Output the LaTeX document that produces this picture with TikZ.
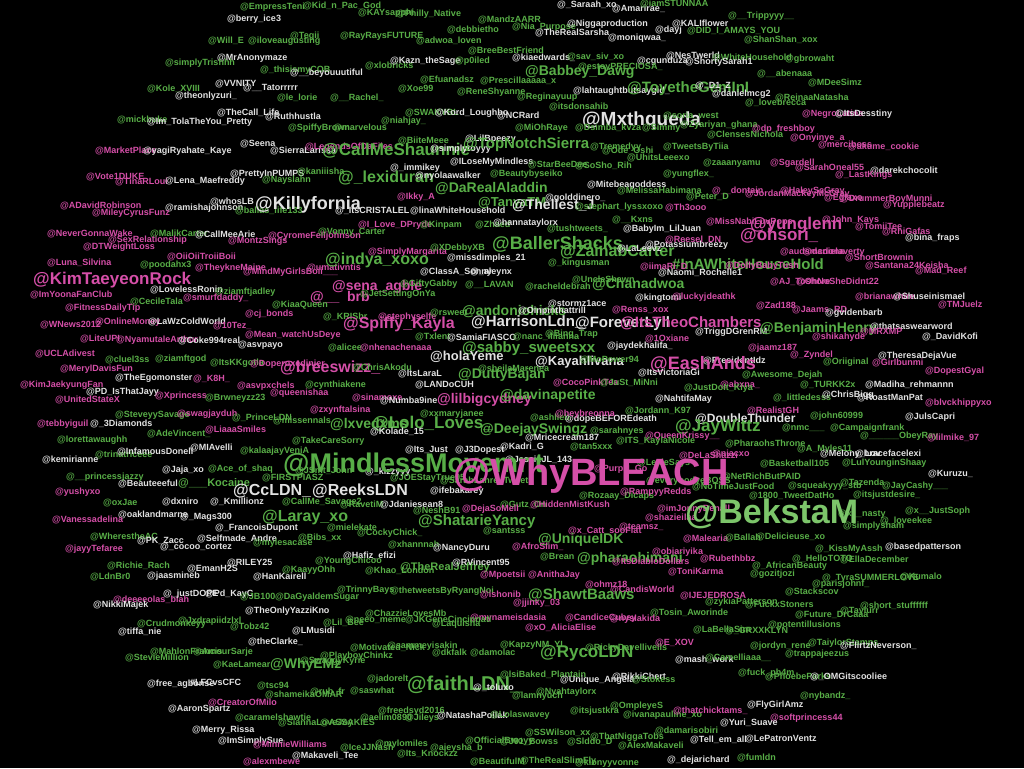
\documentclass[tikz,border=0pt]{standalone}
\usepackage{fontspec}
\setmainfont{Liberation Sans}
\definecolor{grn}{HTML}{58AE47}
\definecolor{lgr}{HTML}{7CC56A}
\definecolor{pnk}{HTML}{D54FA8}
\definecolor{wht}{HTML}{E2E2E2}
\newcounter{lc}
\newcommand\nd[4]{\stepcounter{lc}\node[#1] (h\thelc) at (#2pt,-#3pt) {#4};}
\tikzset{
  lbl/.style={anchor=west,inner sep=0pt,font=\bfseries\fontsize{9}{9}\selectfont},
  gn/.style={lbl,text=grn},
  pk/.style={lbl,text=pnk},
  wt/.style={lbl,text=wht},
  lg/.style={lbl,text=lgr}
}
\begin{document}
\begin{tikzpicture}[x=1pt,y=1pt]
\fill[black] (0,0) rectangle (1024,-768);
\useasboundingbox (0,0) rectangle (1024,-768);
% ---- top
\nd{gn}{240}{7}{@EmpressTeni}
\nd{gn}{303}{6}{@Kid\_n\_Pac\_God}
\nd{wt}{227}{19}{@berry\_ice3}
\nd{gn}{358}{13}{@KAYsapphi}
\nd{gn}{396}{14}{@Philly\_Native}
\nd{wt}{557}{5}{@\_Saraah\_xo}
\nd{wt}{612}{9}{@Amarirae\_}
\nd{gn}{640}{4}{@iamSTUNNAA}
\nd{gn}{478}{20}{@MandzAARR}
\nd{gn}{447}{30}{@debbietho}
\nd{gn}{512}{27}{@Nia\_Purpose}
\nd{wt}{567}{24}{@Niggaproduction}
\nd{wt}{672}{24}{@KALIflower}
\nd{wt}{535}{33}{@TheRealSarsha}
\nd{wt}{655}{30}{@dayj}
\nd{gn}{687}{31}{@DID\_I\_AMAYS\_YOU}
\nd{gn}{728}{16}{@\_\_Trippyyy\_\_}
\nd{wt}{608}{38}{@moniqwaa\_}
\nd{gn}{744}{40}{@ShanShan\_xox}
\nd{gn}{208}{41}{@Will\_E}
\nd{gn}{248}{41}{@iloveaugusting}
\nd{gn}{290}{36}{@Tegii}
\nd{gn}{340}{36}{@RayRaysFUTURE}
\nd{gn}{416}{41}{@adwoa\_loven}
\nd{gn}{468}{51}{@BreeBestFriend}
\nd{wt}{217}{58}{@MrAnonymaze}
\nd{gn}{165}{63}{@simplyTrishhh}
\nd{gn}{260}{70}{@\_thisismyCOB}
\nd{gn}{365}{66}{@xlobricks}
\nd{wt}{390}{61}{@Kazn\_theSage}
\nd{gn}{455}{61}{@p0iled}
\nd{wt}{290}{73}{@\_\_beyouuutiful}
\nd{wt}{512}{58}{@kiaedwards\_}
\nd{gn}{567}{57}{@sav\_siv\_xo}
\nd{wt}{666}{56}{@NesTwerld}
\nd{gn}{712}{58}{@WhiteHousehold}
\nd{gn}{785}{59}{@gbrowaht}
\nd{wt}{637}{61}{@cgunduza}
\nd{wt}{685}{62}{@ShortySarah1}
\nd{gn}{578}{67}{@estoyPRECIOSA\_}
\nd{gn}{525}{72}{\fontsize{14}{14}\selectfont @Babbey\_Dawg}
\nd{gn}{757}{74}{@\_\_abenaaa}
\nd{gn}{808}{83}{@MDeeSimz}
\nd{wt}{215}{84}{@VVNITY}
\nd{wt}{243}{88}{@\_\_Tatorrrrr}
\nd{gn}{147}{89}{@Kole\_XVIII}
\nd{wt}{175}{96}{@theonlyzuri\_}
\nd{gn}{277}{98}{@le\_lorie}
\nd{gn}{330}{98}{@\_\_Rachel\_}
\nd{gn}{398}{89}{@Xoe99}
\nd{gn}{420}{80}{@Efuanadsz}
\nd{gn}{480}{81}{@Prescillaaaaa\_x}
\nd{gn}{457}{92}{@ReneShyanne}
\nd{wt}{573}{91}{@lahtaughtbutsaygid\_}
\nd{gn}{627}{89}{\fontsize{15}{15}\selectfont @ToyetheGemInI}
\nd{wt}{695}{86}{@\_D1\_Z}
\nd{wt}{712}{94}{@danielmcg2}
\nd{gn}{517}{97}{@Reginayuup}
\nd{gn}{745}{103}{@\_lovebrecca}
\nd{gn}{775}{98}{@ReinaaNatasha}
\nd{gn}{549}{107}{@itsdonsahib}
\nd{wt}{217}{113}{@TheCall\_Life}
\nd{wt}{265}{117}{@Ruthhustla}
\nd{gn}{117}{120}{@mickbuke}
\nd{wt}{147}{122}{@Im\_TolaTheYou\_Pretty}
\nd{gn}{405}{113}{@SWAKYBL}
\nd{wt}{435}{113}{@Kord\_Loughbo}
\nd{gn}{381}{121}{@niahjay\_}
\nd{wt}{497}{116}{@NCRard}
\nd{wt}{582}{121}{\fontsize{19}{19}\selectfont @Mxthqueda}
\nd{gn}{663}{116}{@soria\_west}
\nd{gn}{680}{125}{@Zyariyan\_ghana}
\nd{pk}{802}{114}{@NegroLatina}
\nd{wt}{835}{114}{@ItsDesstiny}
\nd{gn}{288}{128}{@SpiffyBrown}
\nd{gn}{333}{128}{@marvelous}
\nd{gn}{515}{128}{@MiOhRaye}
\nd{gn}{575}{128}{@Dsimba\_kvza}
\nd{gn}{642}{128}{@Simmy}
\nd{pk}{752}{129}{@dp\_freshboy}
\nd{gn}{707}{135}{@ClensesNichola}
\nd{pk}{790}{138}{@Onyinye\_a}
\nd{wt}{465}{139}{@LilBpeezy}
\nd{pk}{95}{151}{@MarketPlace}
\nd{wt}{143}{151}{@yagiRyahate\_Kaye}
\nd{wt}{240}{144}{@Seena}
\nd{wt}{270}{151}{@SierraLarissa}
\nd{pk}{305}{147}{@LegendsOfDaFiles}
\nd{gn}{398}{141}{@BiiteMeee}
\nd{gn}{322}{151}{\fontsize{17}{17}\selectfont @CallMeShaunnie}
\nd{wt}{430}{149}{@simplytoyyy}
\nd{gn}{463}{145}{\fontsize{15}{15}\selectfont @TopNotchSierra}
\nd{gn}{590}{147}{@Tremedyy}
\nd{pk}{818}{145}{@merciboss}
\nd{pk}{848}{147}{@akume\_cookie}
\nd{gn}{663}{147}{@TweetsByTiia}
\nd{gn}{602}{151}{@Ode\_Oshi}
\nd{gn}{627}{158}{@UhitsLeeexo}
\nd{wt}{450}{162}{@ILoseMyMindless}
\nd{gn}{528}{165}{@StarBeeDee}
\nd{gn}{575}{166}{@SoSho\_Rih}
\nd{gn}{703}{163}{@zaaanyamu}
\nd{pk}{770}{163}{@Sgardell}
\nd{pk}{795}{168}{@SarahOneal55}
\nd{wt}{870}{171}{@darekchocolit}
\nd{pk}{835}{175}{@\_LastKings}
\nd{gn}{663}{174}{@yungflex\_}
\nd{wt}{390}{168}{@\_immikey}
\nd{pk}{86}{177}{@Vote1DUKE}
\nd{pk}{115}{182}{@TinaRLoui}
\nd{wt}{165}{181}{@Lena\_Maefreddy}
\nd{wt}{230}{174}{@PrettyInPUMPS}
\nd{gn}{262}{180}{@Nayslahn}
\nd{gn}{297}{172}{@kaniiisha}
\nd{gn}{338}{178}{\fontsize{16}{16}\selectfont @\_lexiduran}
\nd{wt}{415}{176}{@nyolaawalker}
\nd{gn}{490}{174}{@Beautybyseiko}
\nd{gn}{435}{189}{\fontsize{14}{14}\selectfont @DaRealAladdin}
\nd{wt}{587}{185}{@Mitebeagoddess}
\nd{gn}{617}{191}{@MelissaHabimana}
\nd{pk}{712}{191}{@\_\_dontain}
\nd{pk}{780}{191}{@HaleyScGray}
% ---- upper middle
\nd{pk}{60}{206}{@ADavidRobinson}
\nd{wt}{165}{208}{@ramishajohnson}
\nd{wt}{210}{202}{@whosLB}
\nd{gn}{235}{211}{@ballas\_life133}
\nd{wt}{255}{205}{\fontsize{18}{18}\selectfont @Killyfornia}
\nd{pk}{92}{213}{@MileyCyrusFunz}
\nd{wt}{335}{211}{@\_ItsCRISTALEL}
\nd{wt}{410}{211}{@linaWhiteHousehold}
\nd{pk}{397}{197}{@Ikky\_A}
\nd{wt}{545}{198}{@golddinero\_}
\nd{gn}{686}{197}{@Peter\_D}
\nd{pk}{745}{194}{@JordanMackeyMcGray}
\nd{gn}{478}{203}{\fontsize{13}{13}\selectfont @TanyaTM}
\nd{wt}{512}{206}{\fontsize{14}{14}\selectfont @Thellest\_J}
\nd{gn}{575}{207}{@stephart\_lyssxoxo}
\nd{pk}{665}{208}{@Th3ooo}
\nd{pk}{824}{198}{@Eglaxo}
\nd{pk}{840}{199}{@DrummerBoyMunni}
\nd{pk}{883}{205}{@Yupplebeatz}
\nd{pk}{358}{225}{@I\_Love\_DPryde}
\nd{gn}{420}{225}{@Kinpam}
\nd{gn}{475}{225}{@Zhaed}
\nd{wt}{493}{223}{@hannataylorx}
\nd{gn}{612}{220}{@\_\_Kxns}
\nd{gn}{547}{229}{@tushtweets\_}
\nd{wt}{623}{229}{@BabyIm\_LilJuan}
\nd{pk}{706}{222}{@MissNabiLuvPops}
\nd{pk}{750}{225}{\fontsize{17}{17}\selectfont @yunglenn}
\nd{pk}{822}{220}{@John\_Kays}
\nd{pk}{855}{227}{@TomiiTee}
\nd{pk}{882}{232}{@RhiGafas}
\nd{wt}{905}{238}{@bina\_fraps}
\nd{pk}{47}{234}{@NeverGonnaWake}
\nd{gn}{150}{234}{@MalikCarter}
\nd{wt}{195}{235}{@CallMeeArie}
\nd{pk}{108}{240}{@SexRelationship}
\nd{pk}{228}{241}{@MontzSings}
\nd{pk}{268}{236}{@CyromeFelljohnson}
\nd{gn}{318}{232}{@Vonny\_Carter}
\nd{pk}{83}{247}{@DTWeightLoss}
\nd{gn}{492}{244}{\fontsize{18}{18}\selectfont @BallerShacks}
\nd{gn}{560}{252}{\fontsize{16}{16}\selectfont @ZainabCarter}
\nd{wt}{617}{249}{@LaLeevz}
\nd{wt}{645}{245}{@Potassiumbreezy}
\nd{pk}{665}{240}{@Reesel\_DN}
\nd{pk}{740}{236}{\fontsize{17}{17}\selectfont @ohsori\_}
\nd{pk}{167}{257}{@OiiOiiTroiiBoii}
\nd{pk}{368}{252}{@SimplyMargarita}
\nd{gn}{430}{248}{@XDebbyXB}
\nd{wt}{447}{258}{@missdimples\_21}
\nd{pk}{780}{252}{@audsmcdona}
\nd{pk}{803}{252}{@danielaverty}
\nd{pk}{47}{263}{@Luna\_Silvina}
\nd{gn}{140}{265}{@poodahx3}
\nd{pk}{195}{268}{@TheykneMaine}
\nd{pk}{243}{272}{@MindMyGirlsBoii\_\_\_}
\nd{pk}{307}{268}{@umativntis}
\nd{gn}{325}{260}{\fontsize{16}{16}\selectfont @indya\_xoxo}
\nd{gn}{548}{263}{@\_kingusman}
\nd{pk}{845}{258}{@ShortBrownin}
\nd{gn}{672}{264}{\fontsize{15}{15}\selectfont \#InAWhiteHouseHold}
\nd{pk}{640}{267}{@iimaRi\_D}
\nd{pk}{725}{266}{@DollyBabyTush}
\nd{pk}{865}{266}{@Santana24Keisha}
\nd{pk}{915}{271}{@Mad\_Reef}
\nd{wt}{658}{273}{@Naomi\_Rochelle1}
\nd{wt}{420}{272}{@ClassA\_Sonny}
\nd{wt}{470}{272}{@\_aleynx}
\nd{pk}{33}{280}{\fontsize{17}{17}\selectfont @KimTaeyeonRock}
\nd{pk}{770}{282}{@AJ\_Toshore}
\nd{pk}{796}{282}{@OhNoSheDidnt22}
\nd{pk}{30}{295}{@ImYoonaFanClub}
\nd{wt}{150}{290}{@LovelessRonin}
\nd{gn}{215}{292}{@ziamftjadley}
\nd{pk}{183}{298}{@smurfdaddy\_}
\nd{pk}{332}{287}{\fontsize{14}{14}\selectfont @sena\_agble}
\nd{pk}{310}{298}{\fontsize{14}{14}\selectfont @\_\_ \ brb}
\nd{gn}{400}{284}{@GiftyGabby}
\nd{gn}{360}{294}{@JetSettingOnYa}
\nd{gn}{465}{285}{@\_\_LAVAN}
\nd{gn}{525}{287}{@racheldebrah}
\nd{gn}{572}{280}{@UncleShawn}
\nd{gn}{592}{285}{\fontsize{14}{14}\selectfont @Chanadwoa}
\nd{wt}{635}{298}{@kingtomi}
\nd{pk}{672}{297}{@luckyjdeathk}
\nd{pk}{855}{297}{@brianawhire}
\nd{wt}{893}{297}{@Shuseinismael}
\nd{gn}{130}{302}{@CecileTala}
\nd{gn}{272}{305}{@KiaaQueen}
\nd{wt}{548}{304}{@stormz1ace}
\nd{pk}{938}{305}{@TMJuelz}
\nd{pk}{65}{308}{@FitnessDailyTip}
\nd{pk}{612}{310}{@Renss\_xox}
\nd{pk}{756}{306}{@Zad188}
\nd{pk}{792}{310}{@Jaams\_RD}
\nd{wt}{825}{313}{@gvidenbarb}
\nd{pk}{245}{314}{@cj\_bonds}
\nd{gn}{323}{317}{@\_KRISbr}
\nd{pk}{378}{317}{@stephyselfe}
\nd{gn}{430}{313}{@rsweet}
\nd{gn}{462}{312}{\fontsize{14}{14}\selectfont @andoniohicks}
\nd{wt}{518}{311}{@Oinpinthattrill}
\nd{pk}{40}{325}{@WNews2012}
\nd{pk}{95}{322}{@OnlineMoney}
\nd{wt}{148}{322}{@LaWzColdWorld}
\nd{pk}{213}{326}{@10Tez\_}
\nd{pk}{343}{324}{\fontsize{16}{16}\selectfont @Spiffy\_Kayla}
\nd{wt}{471}{322}{\fontsize{15}{15}\selectfont @HarrisonLdn\_}
\nd{wt}{575}{324}{\fontsize{15}{15}\selectfont @ForeverLyll}
\nd{pk}{620}{323}{\fontsize{15}{15}\selectfont @ItsTheoChambers}
\nd{wt}{695}{332}{@TriggDGrenRM}
\nd{gn}{760}{329}{\fontsize{14}{14}\selectfont @BenjaminHenry}
\nd{wt}{870}{327}{@thatsaswearword}
\nd{pk}{812}{337}{@shikahyde}
\nd{pk}{860}{332}{@MRXMP}
\nd{wt}{922}{337}{@\_DavidKofi}
\nd{pk}{645}{339}{@1Oxiane}
\nd{pk}{80}{339}{@LiteUPI}
\nd{pk}{116}{340}{@NyamutaleArthur}
\nd{wt}{178}{341}{@Coke994real}
\nd{wt}{238}{345}{@asvpayo}
\nd{pk}{245}{335}{@Mean\_watchUsDeye}
\nd{gn}{415}{337}{@Txlent}
\nd{wt}{447}{338}{@SamiaFIASCO}
\nd{gn}{513}{337}{@nanc\_iliianna}
\nd{gn}{545}{334}{@Bing\_Trap}
\nd{wt}{607}{346}{@jaydekhalifa\_}
\nd{pk}{748}{348}{@jaamz187}
\nd{pk}{35}{354}{@UCLAdivest}
\nd{gn}{328}{348}{@alicee}
\nd{pk}{360}{348}{@nhenachenaaa}
\nd{gn}{462}{349}{\fontsize{15}{15}\selectfont @sabby\_sweetsxx}
\nd{pk}{790}{355}{@\_Zyndel}
\nd{wt}{878}{356}{@TheresaDejaVue}
\nd{gn}{105}{360}{@cluel3ss}
\nd{gn}{155}{359}{@ziamftgod}
\nd{gn}{210}{363}{@ItsKKgotla}
\nd{pk}{250}{364}{@Doperoxedinier}
\nd{wt}{430}{357}{\fontsize{13}{13}\selectfont @holaYeme}
\nd{wt}{535}{362}{\fontsize{13}{13}\selectfont @Kayahlivana}
\nd{gn}{580}{360}{@MoPower94}
\nd{wt}{703}{361}{@PresidentIdz}
\nd{gn}{823}{362}{@Oriiginal}
\nd{pk}{872}{363}{@Girlbunmi}
\nd{pk}{60}{369}{@MerylDavisFun}
\nd{pk}{280}{368}{\fontsize{16}{16}\selectfont @breeswizz\_}
\nd{gn}{352}{368}{@ChrisAkodu}
\nd{gn}{478}{369}{@sheilaMarenea}
\nd{pk}{650}{364}{\fontsize{18}{18}\selectfont @EashAnds}
\nd{pk}{925}{371}{@DopestGyal}
\nd{wt}{398}{374}{@ItsLaraL}
\nd{gn}{458}{375}{\fontsize{14}{14}\selectfont @DuttyBajan}
\nd{wt}{638}{373}{@ItsVictoriaGi}
\nd{gn}{742}{375}{@Awesome\_Dejah}
\nd{pk}{20}{385}{@KimJaekyungFan}
\nd{wt}{115}{378}{@TheEgomonster}
\nd{pk}{193}{379}{@\_K8H\_}
\nd{pk}{237}{386}{@asvpxchels}
\nd{gn}{305}{385}{@cynthiakene}
\nd{wt}{415}{385}{@LANDoCUH}
\nd{pk}{553}{383}{@CocoPinkTea}
\nd{gn}{600}{383}{@JuSt\_MiNni}
\nd{pk}{720}{385}{@abxna\_}
\nd{gn}{800}{385}{@\_TURKK2x}
\nd{wt}{865}{385}{@Madiha\_rehmannn}
\nd{gn}{684}{388}{@JustDoIt\_Kiya}
% ---- middle
\nd{wt}{86}{392}{@PD\_IsThatJayy}
\nd{pk}{155}{396}{@Xprincess}
\nd{gn}{205}{398}{@Brwneyzz23}
\nd{pk}{270}{393}{@queenishaa}
\nd{pk}{55}{400}{@UnitedStateX}
\nd{pk}{352}{398}{@sinamoxe}
\nd{wt}{380}{401}{@Numba9ine}
\nd{pk}{437}{400}{\fontsize{14}{14}\selectfont @lilbigcydney}
\nd{gn}{500}{396}{\fontsize{14}{14}\selectfont @davinapetite}
\nd{wt}{655}{399}{@NahtifaMay}
\nd{gn}{773}{398}{@\_littledesss}
\nd{wt}{822}{395}{@ChrisBigg}
\nd{wt}{857}{398}{@RoastManPat}
\nd{pk}{925}{403}{@blvckhippyxo}
\nd{pk}{310}{410}{@zxynftalsina}
\nd{gn}{530}{418}{@ashlieb}
\nd{wt}{565}{419}{@dopeBEFOREdeath}
\nd{gn}{420}{414}{@xxmaryjanee}
\nd{pk}{555}{414}{@heybreonna}
\nd{gn}{625}{411}{@Jordann\_K97}
\nd{pk}{747}{411}{@RealistGH}
\nd{gn}{810}{416}{@john60999}
\nd{wt}{905}{417}{@JulsCapri}
\nd{gn}{115}{415}{@SteveyySavage}
\nd{pk}{177}{414}{@swagjayduh}
\nd{gn}{232}{418}{@\_PrinceLDN}
\nd{gn}{273}{421}{@missennals}
\nd{pk}{37}{424}{@tebbyiguil}
\nd{wt}{90}{424}{@\_3Diamonds}
\nd{gn}{330}{425}{\fontsize{14}{14}\selectfont @lxvedxms}
\nd{gn}{372}{424}{\fontsize{17}{17}\selectfont @Lolo\_Loves\_}
\nd{gn}{480}{430}{\fontsize{14}{14}\selectfont @DeejaySwingz}
\nd{wt}{695}{419}{\fontsize{12}{12}\selectfont @DoubleThunder}
\nd{pk}{205}{430}{@LiaaaSmiles}
\nd{gn}{147}{434}{@AdeVincent\_}
\nd{wt}{370}{432}{@Kolade\_15}
\nd{gn}{675}{427}{\fontsize{17}{17}\selectfont @JayWittz}
\nd{gn}{590}{431}{@sarahnyes}
\nd{pk}{645}{436}{@QueenKrissy\_\_}
\nd{gn}{616}{441}{@ITS\_KaylaNicole}
\nd{gn}{782}{428}{@nmc\_\_\_}
\nd{gn}{830}{428}{@Campaignfrank}
\nd{gn}{860}{436}{@\_\_\_\_\_\_ObeyRay}
\nd{pk}{927}{438}{@lilmike\_97}
\nd{gn}{57}{440}{@lorettawaughh}
\nd{wt}{525}{438}{@Mricecream187}
\nd{gn}{570}{447}{@tan5xxx}
\nd{gn}{725}{444}{@PharaohsThrone}
\nd{gn}{797}{449}{@A\_Myles11}
\nd{gn}{292}{441}{@TakeCareSorry}
\nd{wt}{190}{448}{@MIAvelli}
\nd{gn}{240}{451}{@kalaajayVeniA}
\nd{gn}{95}{455}{@trinatriceee}
\nd{wt}{117}{452}{@InfamousDonell}
\nd{wt}{405}{450}{@Its\_Just}
\nd{wt}{455}{450}{@J3Dopest}
\nd{wt}{500}{447}{@Kadri\_G}
\nd{wt}{42}{460}{@kemirianne}
\nd{pk}{679}{456}{@DeLaShazzi}
\nd{pk}{712}{454}{@niacxo}
\nd{wt}{820}{454}{@Melony\_Lov}
\nd{wt}{855}{454}{@bracefacelexi}
\nd{wt}{505}{460}{@JessieJL\_143}
\nd{gn}{637}{463}{@LexieSays}
\nd{pk}{594}{469}{@PurpN\_Go}
\nd{gn}{760}{464}{@Basketball105}
\nd{gn}{842}{463}{@LulYounginShaay}
\nd{wt}{162}{470}{@Jaja\_xo}
\nd{gn}{208}{469}{@Ace\_of\_shaq}
\nd{gn}{295}{471}{@JSmt\_John}
\nd{wt}{365}{472}{@\_kizzyyy}
\nd{wt}{928}{474}{@Kuruzu\_}
\nd{gn}{283}{465}{\fontsize{27}{27}\selectfont @MindlessMovemnt}
\nd{gn}{66}{477}{@\_\_princessjazzy}
\nd{gn}{262}{478}{@FIRSTPIASZ}
\nd{gn}{390}{478}{@JOEStayTrue95}
\nd{gn}{440}{481}{@SarahLanre\_Tweets}
\nd{gn}{722}{477}{@NetRichButPAID}
\nd{gn}{646}{481}{@everybodyeBOSS}
\nd{wt}{118}{484}{@Beauteeeful}
\nd{gn}{178}{483}{\fontsize{11}{11}\selectfont @\_\_\_Kocaine}
\nd{gn}{692}{487}{@NoTimeJustFood}
\nd{gn}{788}{486}{@squeakyyy\_stb}
\nd{gn}{840}{483}{@Tazenda}
\nd{gn}{882}{486}{@JayCashy\_\_\_}
\nd{wt}{233}{491}{\fontsize{16}{16}\selectfont @CcLDN\_}
\nd{wt}{312}{491}{\fontsize{16}{16}\selectfont @ReeksLDN}
\nd{wt}{430}{491}{@ifebakarey}
\nd{pk}{55}{492}{@yushyxo}
\nd{gn}{579}{496}{@Rozaay\_Dicaps}
\nd{pk}{620}{492}{@RampyyRedds}
\nd{gn}{749}{496}{@1800\_TweetDatHo}
\nd{gn}{853}{495}{@itsjustdesire\_}
\nd{gn}{103}{503}{@oxJae}
\nd{wt}{162}{502}{@dxniro}
\nd{wt}{210}{502}{@\_Kmillionz}
\nd{gn}{282}{502}{@CallMe\_Savage2}
\nd{gn}{340}{505}{@RavetiM}
\nd{wt}{380}{505}{@Jdaniesean8}
\nd{gn}{500}{505}{@Gutz\_On}
\nd{pk}{530}{505}{@HiddenMistKush}
\nd{pk}{462}{509}{@DejaSoMell}
\nd{gn}{413}{511}{@NeshB91}
\nd{pk}{657}{509}{@imJonnyBenall}
\nd{gn}{838}{514}{@x\_\_nasty}
\nd{gn}{905}{511}{@x\_\_JustSoph}
\nd{pk}{453}{476}{\fontsize{38}{38}\selectfont @WhyBLEACH}
\nd{wt}{118}{515}{@oaklandmarne}
\nd{wt}{180}{517}{@\_Mags300}
\nd{gn}{262}{517}{\fontsize{16}{16}\selectfont @Laray\_xo}
\nd{pk}{52}{520}{@Vanessadelina}
\nd{gn}{880}{521}{@\_loveekee}
\nd{pk}{645}{518}{@shazieilaa}
\nd{gn}{418}{522}{\fontsize{15}{15}\selectfont @ShatarieYancy}
\nd{lg}{685}{514}{\fontsize{34}{34}\selectfont @BekstaM}
\nd{wt}{215}{528}{@\_FrancoisDupont}
\nd{gn}{327}{528}{@mielekate}
\nd{gn}{843}{526}{@simplysham}
\nd{pk}{619}{527}{@teamsz\_}
\nd{pk}{568}{531}{@x\_Catt\_sooFlat}
\nd{gn}{483}{531}{@santsss}
\nd{gn}{357}{533}{@CockyChick\_}
\nd{gn}{90}{537}{@WherestheAC}
\nd{wt}{137}{541}{@PK\_Zacc}
\nd{wt}{197}{539}{@Selfmade\_Andre}
\nd{gn}{298}{538}{@Bibs\_xx}
\nd{pk}{683}{539}{@Malearia}
\nd{gn}{725}{538}{@Ballah}
\nd{gn}{756}{537}{@Delicieuse\_xo}
\nd{gn}{538}{540}{\fontsize{14}{14}\selectfont @UniqueIDK}
\nd{wt}{160}{547}{@\_cocoo\_cortez}
\nd{gn}{253}{543}{@mylesacase}
\nd{gn}{388}{545}{@xhannnah}
\nd{wt}{433}{548}{@NancyDuru}
\nd{pk}{65}{549}{@jayyTefaree}
\nd{pk}{512}{547}{@AfroSlim\_}
\nd{pk}{652}{552}{@objariyika}
\nd{gn}{815}{549}{@\_KissMyAssh}
\nd{wt}{885}{547}{@basedpatterson}
\nd{gn}{792}{559}{@\_HelloTOTO}
\nd{gn}{840}{560}{@EllaDecember}
\nd{wt}{343}{556}{@Hafiz\_efizi}
\nd{gn}{107}{566}{@Richie\_Rach}
\nd{wt}{187}{569}{@EmanH2S}
\nd{wt}{227}{563}{@RILEY25}
\nd{gn}{315}{561}{@YoungChicoo}
\nd{gn}{282}{570}{@KaayyOhh}
\nd{gn}{365}{571}{@Khao\_London}
\nd{gn}{400}{568}{\fontsize{11}{11}\selectfont @TheRealJeffrey}
\nd{wt}{452}{563}{@RVincent95}
\nd{gn}{540}{557}{@Brean}
\nd{gn}{577}{559}{\fontsize{14}{14}\selectfont @pharaohimani}
\nd{pk}{612}{562}{@ItsDiabloDollars}
\nd{pk}{700}{559}{@Rubethbbz}
\nd{pk}{668}{572}{@ToniKarma}
\nd{gn}{752}{566}{@\_AfricanBeauty}
\nd{gn}{750}{574}{@gozitjozi}
\nd{pk}{480}{575}{@Mpoetsii}
\nd{pk}{528}{575}{@AnithaJay}
\nd{gn}{90}{577}{@LdnBr0}
\nd{wt}{147}{576}{@jaasmineb}
\nd{wt}{253}{577}{@HanKairell}
% ---- lower
\nd{gn}{822}{578}{@\_TyraSUMMERLOVE}
\nd{gn}{812}{584}{@parisjohnf\_}
\nd{gn}{900}{577}{@Kumalo}
\nd{pk}{585}{585}{@ohmz18}
\nd{pk}{610}{590}{@CandisWorld}
\nd{gn}{337}{590}{@TrinnyBays}
\nd{gn}{390}{591}{@thetweetsByRyangNoi}
\nd{gn}{785}{592}{@Stackscov}
\nd{pk}{113}{600}{@deeeeolas\_blah}
\nd{wt}{163}{594}{@\_justDOPE}
\nd{wt}{205}{594}{@Pd\_KayC}
\nd{gn}{240}{597}{@JB100}
\nd{gn}{275}{597}{@DaGyaldemSugar}
\nd{pk}{480}{595}{@ishonib}
\nd{gn}{528}{595}{\fontsize{15}{15}\selectfont @ShawtBaaws}
\nd{pk}{680}{596}{@IJEJEDROSA}
\nd{gn}{705}{602}{@zykiaPatterson}
\nd{pk}{513}{603}{@jjinky\_03}
\nd{gn}{745}{605}{@FuckxStoners}
\nd{gn}{860}{606}{@short\_stuffffff}
\nd{wt}{93}{605}{@NikkiMajek}
\nd{wt}{245}{611}{@TheOnlyYazziKno}
\nd{gn}{365}{614}{@ChazzieLovesMb}
\nd{gn}{650}{613}{@Tosin\_Aworinde}
\nd{gn}{795}{615}{@Future\_DrCaaa}
\nd{gn}{840}{611}{@Taylurr}
\nd{pk}{470}{618}{@mynameisdasia}
\nd{pk}{565}{618}{@CandiceCubey}
\nd{pk}{610}{619}{@nyslakida}
\nd{gn}{137}{624}{@Crudmonkeyy}
\nd{gn}{178}{621}{@Jxdrapiidzlxl}
\nd{gn}{230}{627}{@Tobz42}
\nd{gn}{323}{623}{@Lil\_Bee}
\nd{gn}{345}{620}{@neeo\_meme}
\nd{gn}{405}{620}{@JKGeneCincinnati}
\nd{gn}{432}{624}{@Laquisha}
\nd{pk}{525}{628}{@xO\_AliciaElise}
\nd{gn}{768}{625}{@potentillusions}
\nd{wt}{292}{631}{@LMusidi}
\nd{wt}{118}{632}{@tiffa\_nie}
\nd{gn}{693}{630}{@LaBellaSim}
\nd{gn}{725}{631}{@\_GRXXKLYN}
\nd{wt}{248}{642}{@theClarke\_}
\nd{gn}{150}{652}{@MahlonFrancis}
\nd{gn}{193}{652}{@AmourSarje}
\nd{gn}{350}{648}{@Motivated\_Nick}
\nd{gn}{387}{646}{@sammeyisakin}
\nd{gn}{500}{645}{@KapzyNM\_YI}
\nd{gn}{585}{648}{@RickyDavellivells}
\nd{pk}{655}{643}{@E\_XOV}
\nd{gn}{750}{646}{@jordyn\_rene}
\nd{gn}{808}{643}{@TaiylorStamps}
\nd{wt}{840}{646}{@FlirtzNeverson\_}
\nd{gn}{432}{653}{@dkfalk}
\nd{gn}{470}{653}{@damolac}
\nd{gn}{540}{653}{\fontsize{17}{17}\selectfont @RycoLDN}
\nd{gn}{125}{658}{@StevieMillion}
\nd{gn}{320}{656}{@PlayboyChinkz}
\nd{gn}{300}{661}{@SwaggyKyrie}
\nd{gn}{213}{665}{@KaeLamear}
\nd{gn}{270}{665}{\fontsize{14}{14}\selectfont @WhyEMz}
\nd{wt}{675}{660}{@mash\_work}
\nd{gn}{705}{658}{@Camelliaaa\_\_}
\nd{gn}{785}{654}{@trappajeezus}
\nd{gn}{500}{675}{@lsiBaked\_Plantain}
\nd{wt}{560}{680}{@Unique\_Angela}
\nd{wt}{612}{677}{@RikkiChert}
\nd{gn}{632}{680}{@Stokess}
\nd{gn}{738}{673}{@fuck\_ph4m}
\nd{gn}{765}{677}{@PhoebeParks}
\nd{wt}{810}{677}{@\_OMGitscooliee}
\nd{wt}{147}{684}{@free\_agbonse}
\nd{wt}{190}{682}{\#LFCvsCFC}
\nd{gn}{367}{679}{@jadorelt}
\nd{gn}{407}{685}{\fontsize{20}{20}\selectfont @faithLDN\_}
\nd{wt}{473}{688}{@\_toluxo}
\nd{gn}{257}{686}{@tsc94}
\nd{gn}{310}{692}{@rub\_fr}
\nd{gn}{350}{691}{@saswhat}
\nd{gn}{265}{695}{@shameikaOMAR}
\nd{gn}{512}{696}{@lamnyuch}
\nd{gn}{536}{692}{@Nyahtaylorx}
\nd{gn}{800}{696}{@nybandz\_}
\nd{pk}{208}{703}{@CreatorOfMilo}
\nd{gn}{570}{711}{@itsjustkra}
\nd{gn}{610}{706}{@OmpleyeS}
\nd{gn}{623}{715}{@ivanapauline\_xo}
\nd{pk}{673}{711}{@thatchicktams\_}
\nd{wt}{747}{705}{@FlyGirlAmz}
\nd{wt}{168}{709}{@AaronSpartz}
\nd{gn}{378}{711}{@freedsyd2016}
\nd{gn}{235}{718}{@caramelshawtie}
\nd{gn}{278}{723}{@SiannaLoveJoy}
\nd{gn}{320}{723}{@ASSAKIES}
\nd{gn}{360}{718}{@aelim0890}
\nd{gn}{405}{718}{@Jileys}
\nd{wt}{437}{716}{@NatashaPollak}
\nd{gn}{490}{715}{@Lolaswavey}
\nd{pk}{770}{718}{@softprincess44}
\nd{wt}{720}{723}{@Yuri\_Suave}
\nd{wt}{192}{730}{@Merry\_Rissa}
\nd{gn}{525}{733}{@SSWilson\_xx}
\nd{gn}{655}{731}{@damarisobiri}
\nd{gn}{590}{737}{@ThatNiggaTobs}
\nd{wt}{218}{741}{@ImSimplySue}
\nd{pk}{253}{745}{@MinnieWilliams}
\nd{gn}{340}{748}{@IceJJNash}
\nd{gn}{375}{744}{@mylomiles}
\nd{gn}{397}{754}{@Its\_Knockzz}
\nd{gn}{430}{748}{@aieysha\_b}
\nd{gn}{465}{741}{@OfficialBwoyy}
\nd{gn}{500}{742}{@J01\_Bowss}
\nd{gn}{567}{742}{@Slddo\_D}
\nd{gn}{618}{746}{@AlexMakaveli}
\nd{wt}{690}{740}{@Tell\_em\_all}
\nd{wt}{745}{739}{@LePatronVentz}
\nd{wt}{292}{756}{@Makaveli\_Tee}
\nd{wt}{667}{760}{@\_dejarichard}
\nd{gn}{737}{758}{@fumldn}
\nd{pk}{243}{762}{@alexmbewe}
\nd{gn}{470}{762}{@BeautifulM}
\nd{gn}{520}{761}{@TheRealSlimFly}
\nd{gn}{575}{763}{@kionyyvonne}
\end{tikzpicture}
\end{document}
